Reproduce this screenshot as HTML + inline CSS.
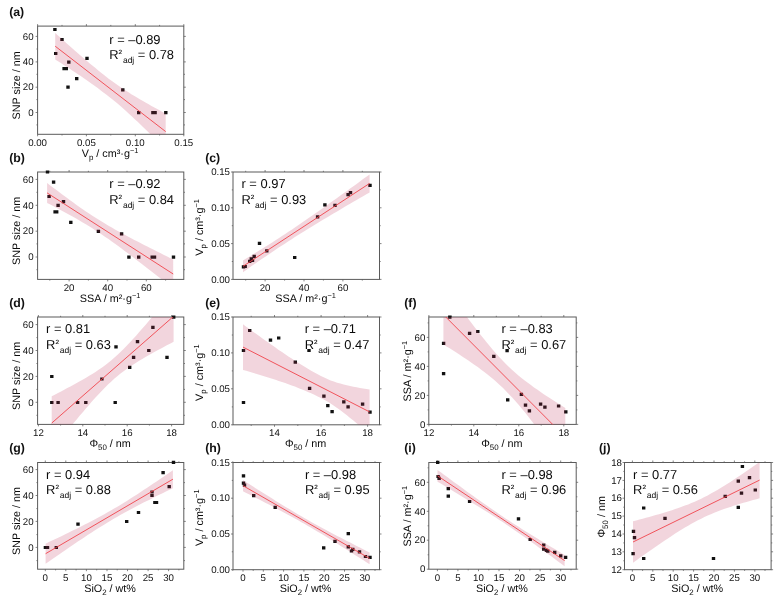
<!DOCTYPE html>
<html><head><meta charset="utf-8"><title>Correlation plots</title>
<style>html,body{margin:0;padding:0;background:#fff}svg{display:block;text-rendering:geometricPrecision}</style></head>
<body>
<svg width="782" height="601" viewBox="0 0 782 601" font-family='"Liberation Sans", Arial, sans-serif' fill="#0a0a0a">
<rect width="782" height="601" fill="#fff"/>
<g id="panel-a">
<clipPath id="c1"><rect x="37.6" y="26.1" width="146.2" height="108.2"/></clipPath>
<path d="M37.6 134.3v2M37.6 26.1v-2M86.4 134.3v2M86.4 26.1v-2M135.3 134.3v2M135.3 26.1v-2M183.8 134.3v2M183.8 26.1v-2M37.6 112.5h-2M183.8 112.5h2M37.6 87.2h-2M183.8 87.2h2M37.6 61.9h-2M183.8 61.9h2M37.6 36.4h-2M183.8 36.4h2M62.0 134.3v1.2M62.0 26.1v-1.2M110.8 134.3v1.2M110.8 26.1v-1.2M159.6 134.3v1.2M159.6 26.1v-1.2M37.6 49.0h-1.2M183.8 49.0h1.2M37.6 74.3h-1.2M183.8 74.3h1.2M37.6 99.6h-1.2M183.8 99.6h1.2M37.6 124.9h-1.2M183.8 124.9h1.2" stroke="#666" stroke-width="0.8" fill="none"/>
<rect x="37.6" y="26.1" width="146.2" height="108.2" fill="none" stroke="#5a5a5a" stroke-width="1"/>
<path d="M53.2 27.9h3.4v3.2h-3.4zM60.3 37.9h3.4v3.2h-3.4zM54.0 51.9h3.4v3.2h-3.4zM85.3 56.8h3.4v3.2h-3.4zM67.1 60.6h3.4v3.2h-3.4zM62.4 67.0h3.4v3.2h-3.4zM64.6 67.0h3.4v3.2h-3.4zM75.0 77.0h3.4v3.2h-3.4zM66.3 85.6h3.4v3.2h-3.4zM121.1 88.3h3.4v3.2h-3.4zM137.0 111.0h3.4v3.2h-3.4zM151.2 111.0h3.4v3.2h-3.4zM153.4 111.0h3.4v3.2h-3.4zM164.1 111.0h3.4v3.2h-3.4z" fill="#111"/>
<g clip-path="url(#c1)"><polygon points="55.2,33.0 58.0,35.6 60.9,38.1 63.7,40.7 66.5,43.2 69.4,45.7 72.2,48.3 75.0,50.7 77.9,53.2 80.7,55.7 83.5,58.1 86.4,60.5 89.2,62.9 92.0,65.3 94.9,67.6 97.7,69.9 100.5,72.2 103.4,74.5 106.2,76.7 109.0,78.9 111.9,81.0 114.7,83.1 117.5,85.1 120.4,87.1 123.2,89.0 126.0,90.8 128.9,92.6 131.7,94.4 134.5,96.1 137.4,97.8 140.2,99.5 143.0,101.1 145.9,102.7 148.7,104.3 151.5,105.9 154.4,107.5 157.2,109.1 160.0,110.6 162.9,112.2 165.7,113.7 165.7,149.5 162.9,146.7 160.0,143.8 157.2,141.0 154.4,138.2 151.5,135.4 148.7,132.6 145.9,129.8 143.0,127.0 140.2,124.3 137.4,121.6 134.5,118.9 131.7,116.3 128.9,113.7 126.0,111.1 123.2,108.5 120.4,106.1 117.5,103.6 114.7,101.3 111.9,99.0 109.0,96.7 106.2,94.5 103.4,92.4 100.5,90.2 97.7,88.1 94.9,86.1 92.0,84.0 89.2,82.0 86.4,80.0 83.5,78.1 80.7,76.1 77.9,74.2 75.0,72.3 72.2,70.4 69.4,68.6 66.5,66.7 63.7,64.9 60.9,63.0 58.0,61.2 55.2,59.4" fill="rgba(190,45,85,0.2)"/><line x1="55.2" y1="46.2" x2="165.7" y2="131.6" stroke="#f0444c" stroke-width="0.9"/></g>
<g font-size="9.7" fill="#111">
<text x="37.6" y="145.7" text-anchor="middle">0.00</text>
<text x="86.4" y="145.7" text-anchor="middle">0.05</text>
<text x="135.3" y="145.7" text-anchor="middle">0.10</text>
<text x="183.8" y="145.7" text-anchor="middle">0.15</text>
<text x="33.6" y="115.7" text-anchor="end">0</text>
<text x="33.6" y="90.4" text-anchor="end">20</text>
<text x="33.6" y="65.1" text-anchor="end">40</text>
<text x="33.6" y="39.6" text-anchor="end">60</text>
</g>
<text x="110.1" y="156.9" font-size="10.8" text-anchor="middle">V<tspan font-size="7.9" dy="2.7">p</tspan><tspan dy="-2.7"> / cm³·g</tspan><tspan font-size="7.4" dy="-4.3">−1</tspan></text>
<text x="19.6" y="85.3" font-size="10.8" text-anchor="middle" transform="rotate(-90 19.6 85.3)">SNP size / nm</text>
<text x="9.2" y="15.7" font-size="12.3" font-weight="bold" fill="#111">(a)</text>
<text x="109.3" y="43.5" font-size="12.9">r = –0.89</text>
<text x="109.3" y="58.8" font-size="12.9">R<tspan font-size="10.5" dy="-1.7">²</tspan><tspan font-size="8.5" dy="5.7" dx="0.8">adj</tspan><tspan dy="-4.0"> = 0.78</tspan></text>
</g>
<g id="panel-b">
<clipPath id="c2"><rect x="37.6" y="172.0" width="146.2" height="107.4"/></clipPath>
<path d="M69.1 279.4v2M69.1 172.0v-2M107.7 279.4v2M107.7 172.0v-2M146.3 279.4v2M146.3 172.0v-2M37.6 257.0h-2M183.8 257.0h2M37.6 231.2h-2M183.8 231.2h2M37.6 205.3h-2M183.8 205.3h2M37.6 179.4h-2M183.8 179.4h2M49.8 279.4v1.2M49.8 172.0v-1.2M88.4 279.4v1.2M88.4 172.0v-1.2M127.0 279.4v1.2M127.0 172.0v-1.2M165.6 279.4v1.2M165.6 172.0v-1.2M37.6 192.3h-1.2M183.8 192.3h1.2M37.6 218.1h-1.2M183.8 218.1h1.2M37.6 243.9h-1.2M183.8 243.9h1.2M37.6 269.7h-1.2M183.8 269.7h1.2" stroke="#666" stroke-width="0.8" fill="none"/>
<rect x="37.6" y="172.0" width="146.2" height="107.4" fill="none" stroke="#5a5a5a" stroke-width="1"/>
<path d="M45.8 170.4h3.4v3.2h-3.4zM51.9 180.6h3.4v3.2h-3.4zM47.4 194.9h3.4v3.2h-3.4zM61.8 200.0h3.4v3.2h-3.4zM56.4 203.7h3.4v3.2h-3.4zM53.4 210.3h3.4v3.2h-3.4zM55.0 210.3h3.4v3.2h-3.4zM69.1 220.7h3.4v3.2h-3.4zM96.7 229.7h3.4v3.2h-3.4zM119.9 232.2h3.4v3.2h-3.4zM127.2 255.5h3.4v3.2h-3.4zM137.0 255.5h3.4v3.2h-3.4zM150.5 255.5h3.4v3.2h-3.4zM152.8 255.5h3.4v3.2h-3.4zM171.8 255.5h3.4v3.2h-3.4z" fill="#111"/>
<g clip-path="url(#c2)"><polygon points="47.1,182.9 50.3,185.4 53.6,187.9 56.8,190.3 60.0,192.8 63.3,195.2 66.5,197.6 69.7,200.0 73.0,202.3 76.2,204.7 79.4,206.9 82.7,209.2 85.9,211.4 89.1,213.6 92.4,215.7 95.6,217.8 98.8,219.8 102.1,221.8 105.3,223.8 108.5,225.7 111.8,227.5 115.0,229.4 118.2,231.2 121.5,233.0 124.7,234.7 127.9,236.5 131.2,238.2 134.4,239.9 137.6,241.6 140.9,243.2 144.1,244.9 147.3,246.6 150.6,248.2 153.8,249.8 157.0,251.5 160.3,253.1 163.5,254.7 166.7,256.3 170.0,257.9 173.2,259.5 173.2,288.5 170.0,285.9 166.7,283.4 163.5,280.8 160.3,278.3 157.0,275.8 153.8,273.2 150.6,270.7 147.3,268.2 144.1,265.7 140.9,263.2 137.6,260.7 134.4,258.2 131.2,255.7 127.9,253.3 124.7,250.9 121.5,248.5 118.2,246.1 115.0,243.8 111.8,241.4 108.5,239.1 105.3,236.9 102.1,234.7 98.8,232.5 95.6,230.4 92.4,228.3 89.1,226.3 85.9,224.3 82.7,222.4 79.4,220.4 76.2,218.6 73.0,216.7 69.7,214.9 66.5,213.2 63.3,211.4 60.0,209.7 56.8,208.0 53.6,206.3 50.3,204.6 47.1,202.9" fill="rgba(190,45,85,0.2)"/><line x1="47.1" y1="192.9" x2="173.2" y2="274.0" stroke="#f0444c" stroke-width="0.9"/></g>
<g font-size="9.7" fill="#111">
<text x="69.1" y="290.8" text-anchor="middle">20</text>
<text x="107.7" y="290.8" text-anchor="middle">40</text>
<text x="146.3" y="290.8" text-anchor="middle">60</text>
<text x="33.6" y="260.2" text-anchor="end">0</text>
<text x="33.6" y="234.4" text-anchor="end">20</text>
<text x="33.6" y="208.5" text-anchor="end">40</text>
<text x="33.6" y="182.6" text-anchor="end">60</text>
</g>
<text x="110.1" y="302.0" font-size="10.8" text-anchor="middle">SSA / m²·g<tspan font-size="7.4" dy="-4.3">−1</tspan></text>
<text x="19.6" y="230.8" font-size="10.8" text-anchor="middle" transform="rotate(-90 19.6 230.8)">SNP size / nm</text>
<text x="9.2" y="161.6" font-size="12.3" font-weight="bold" fill="#111">(b)</text>
<text x="109.3" y="188.2" font-size="12.9">r = –0.92</text>
<text x="109.3" y="203.5" font-size="12.9">R<tspan font-size="10.5" dy="-1.7">²</tspan><tspan font-size="8.5" dy="5.7" dx="0.8">adj</tspan><tspan dy="-4.0"> = 0.84</tspan></text>
</g>
<g id="panel-c">
<clipPath id="c3"><rect x="233.0" y="172.0" width="146.5" height="107.4"/></clipPath>
<path d="M265.1 279.4v2M265.1 172.0v-2M304.0 279.4v2M304.0 172.0v-2M342.9 279.4v2M342.9 172.0v-2M233.0 279.4h-2M379.5 279.4h2M233.0 243.6h-2M379.5 243.6h2M233.0 207.8h-2M379.5 207.8h2M233.0 172.0h-2M379.5 172.0h2M245.7 279.4v1.2M245.7 172.0v-1.2M284.6 279.4v1.2M284.6 172.0v-1.2M323.4 279.4v1.2M323.4 172.0v-1.2M362.3 279.4v1.2M362.3 172.0v-1.2M233.0 189.9h-1.2M379.5 189.9h1.2M233.0 225.7h-1.2M379.5 225.7h1.2M233.0 261.5h-1.2M379.5 261.5h1.2" stroke="#666" stroke-width="0.8" fill="none"/>
<rect x="233.0" y="172.0" width="146.5" height="107.4" fill="none" stroke="#5a5a5a" stroke-width="1"/>
<path d="M241.8 265.3h3.4v3.2h-3.4zM243.5 264.9h3.4v3.2h-3.4zM248.0 259.8h3.4v3.2h-3.4zM249.6 257.3h3.4v3.2h-3.4zM250.8 258.8h3.4v3.2h-3.4zM252.5 254.7h3.4v3.2h-3.4zM257.8 241.8h3.4v3.2h-3.4zM265.1 249.3h3.4v3.2h-3.4zM293.0 255.9h3.4v3.2h-3.4zM315.9 215.2h3.4v3.2h-3.4zM323.2 203.3h3.4v3.2h-3.4zM333.3 203.7h3.4v3.2h-3.4zM346.4 193.1h3.4v3.2h-3.4zM348.8 191.0h3.4v3.2h-3.4zM368.3 183.7h3.4v3.2h-3.4z" fill="#111"/>
<g clip-path="url(#c3)"><polygon points="243.0,260.4 246.2,258.4 249.5,256.5 252.7,254.5 256.0,252.5 259.2,250.5 262.5,248.5 265.7,246.5 269.0,244.4 272.2,242.4 275.5,240.3 278.7,238.2 282.0,236.1 285.2,234.0 288.4,231.8 291.7,229.7 294.9,227.5 298.2,225.3 301.4,223.1 304.7,220.8 307.9,218.6 311.2,216.3 314.4,214.1 317.7,211.8 320.9,209.5 324.2,207.2 327.4,204.9 330.6,202.6 333.9,200.3 337.1,197.9 340.4,195.6 343.6,193.3 346.9,190.9 350.1,188.6 353.4,186.2 356.6,183.9 359.9,181.5 363.1,179.1 366.4,176.8 369.6,174.4 369.6,192.4 366.4,194.3 363.1,196.2 359.9,198.1 356.6,199.9 353.4,201.8 350.1,203.7 346.9,205.6 343.6,207.5 340.4,209.5 337.1,211.4 333.9,213.3 330.6,215.2 327.4,217.2 324.2,219.1 320.9,221.1 317.7,223.0 314.4,225.0 311.2,227.0 307.9,229.0 304.7,231.0 301.4,233.0 298.2,235.0 294.9,237.1 291.7,239.2 288.4,241.3 285.2,243.4 282.0,245.5 278.7,247.6 275.5,249.8 272.2,252.0 269.0,254.2 265.7,256.4 262.5,258.6 259.2,260.8 256.0,263.1 252.7,265.3 249.5,267.6 246.2,269.9 243.0,272.2" fill="rgba(190,45,85,0.2)"/><line x1="243.0" y1="266.3" x2="369.6" y2="183.4" stroke="#f0444c" stroke-width="0.9"/></g>
<g font-size="9.7" fill="#111">
<text x="265.1" y="290.8" text-anchor="middle">20</text>
<text x="304.0" y="290.8" text-anchor="middle">40</text>
<text x="342.9" y="290.8" text-anchor="middle">60</text>
<text x="230.0" y="282.6" text-anchor="end">0.00</text>
<text x="230.0" y="246.8" text-anchor="end">0.05</text>
<text x="230.0" y="211.0" text-anchor="end">0.10</text>
<text x="230.0" y="175.2" text-anchor="end">0.15</text>
</g>
<text x="305.6" y="302.0" font-size="10.8" text-anchor="middle">SSA / m²·g<tspan font-size="7.4" dy="-4.3">−1</tspan></text>
<text x="203.5" y="227.4" font-size="10.8" text-anchor="middle" transform="rotate(-90 203.5 227.4)">V<tspan font-size="7.9" dy="2.7">p</tspan><tspan dy="-2.7"> / cm³·g</tspan><tspan font-size="7.4" dy="-4.3">−1</tspan></text>
<text x="205.2" y="161.6" font-size="12.3" font-weight="bold" fill="#111">(c)</text>
<text x="241.5" y="188.2" font-size="12.9">r = 0.97</text>
<text x="241.5" y="203.5" font-size="12.9">R<tspan font-size="10.5" dy="-1.7">²</tspan><tspan font-size="8.5" dy="5.7" dx="0.8">adj</tspan><tspan dy="-4.0"> = 0.93</tspan></text>
</g>
<g id="panel-d">
<clipPath id="c4"><rect x="37.6" y="317.0" width="146.2" height="107.4"/></clipPath>
<path d="M38.4 424.35v2M38.4 317.0v-2M82.8 424.35v2M82.8 317.0v-2M127.2 424.35v2M127.2 317.0v-2M171.6 424.35v2M171.6 317.0v-2M37.6 402.3h-2M183.8 402.3h2M37.6 376.4h-2M183.8 376.4h2M37.6 350.5h-2M183.8 350.5h2M37.6 324.6h-2M183.8 324.6h2M60.6 424.35v1.2M60.6 317.0v-1.2M105.0 424.35v1.2M105.0 317.0v-1.2M149.4 424.35v1.2M149.4 317.0v-1.2M37.6 337.6h-1.2M183.8 337.6h1.2M37.6 363.5h-1.2M183.8 363.5h1.2M37.6 389.4h-1.2M183.8 389.4h1.2M37.6 415.3h-1.2M183.8 415.3h1.2" stroke="#666" stroke-width="0.8" fill="none"/>
<rect x="37.6" y="317.0" width="146.2" height="107.4" fill="none" stroke="#5a5a5a" stroke-width="1"/>
<path d="M172.0 315.6h3.4v3.2h-3.4zM151.2 325.8h3.4v3.2h-3.4zM135.8 340.1h3.4v3.2h-3.4zM114.3 345.2h3.4v3.2h-3.4zM147.1 348.9h3.4v3.2h-3.4zM165.3 355.7h3.4v3.2h-3.4zM131.9 355.7h3.4v3.2h-3.4zM128.0 365.7h3.4v3.2h-3.4zM50.1 374.9h3.4v3.2h-3.4zM100.2 377.4h3.4v3.2h-3.4zM50.1 400.9h3.4v3.2h-3.4zM56.4 400.9h3.4v3.2h-3.4zM75.9 400.9h3.4v3.2h-3.4zM84.1 400.9h3.4v3.2h-3.4zM113.5 400.9h3.4v3.2h-3.4z" fill="#111"/>
<g clip-path="url(#c4)"><polygon points="51.7,396.3 54.8,394.7 58.0,393.1 61.1,391.4 64.2,389.8 67.3,388.1 70.5,386.4 73.6,384.7 76.7,383.0 79.8,381.3 83.0,379.5 86.1,377.7 89.2,375.8 92.3,373.9 95.5,371.9 98.6,369.8 101.7,367.7 104.8,365.4 108.0,363.0 111.1,360.5 114.2,357.8 117.3,355.0 120.5,352.1 123.6,349.0 126.7,345.8 129.8,342.5 133.0,339.1 136.1,335.7 139.2,332.1 142.3,328.5 145.5,324.9 148.6,321.2 151.7,317.5 154.8,313.7 158.0,309.9 161.1,306.1 164.2,302.3 167.3,298.5 170.5,294.7 173.6,290.8 173.6,341.8 170.5,343.4 167.3,345.1 164.2,346.7 161.1,348.4 158.0,350.1 154.8,351.8 151.7,353.5 148.6,355.2 145.5,357.0 142.3,358.9 139.2,360.7 136.1,362.7 133.0,364.7 129.8,366.8 126.7,368.9 123.6,371.2 120.5,373.6 117.3,376.2 114.2,378.8 111.1,381.7 108.0,384.6 104.8,387.7 101.7,390.9 98.6,394.2 95.5,397.6 92.3,401.1 89.2,404.7 86.1,408.3 83.0,411.9 79.8,415.6 76.7,419.4 73.6,423.1 70.5,426.9 67.3,430.7 64.2,434.5 61.1,438.3 58.0,442.2 54.8,446.0 51.7,449.9" fill="rgba(190,45,85,0.2)"/><line x1="51.7" y1="423.1" x2="173.6" y2="316.3" stroke="#f0444c" stroke-width="0.9"/></g>
<g font-size="9.7" fill="#111">
<text x="38.4" y="435.8" text-anchor="middle">12</text>
<text x="82.8" y="435.8" text-anchor="middle">14</text>
<text x="127.2" y="435.8" text-anchor="middle">16</text>
<text x="171.6" y="435.8" text-anchor="middle">18</text>
<text x="33.6" y="405.5" text-anchor="end">0</text>
<text x="33.6" y="379.6" text-anchor="end">20</text>
<text x="33.6" y="353.7" text-anchor="end">40</text>
<text x="33.6" y="327.8" text-anchor="end">60</text>
</g>
<text x="110.1" y="447.0" font-size="10.8" text-anchor="middle">Φ<tspan font-size="7.9" dy="2.7">50</tspan><tspan dy="-2.7"> / nm</tspan></text>
<text x="19.6" y="375.8" font-size="10.8" text-anchor="middle" transform="rotate(-90 19.6 375.8)">SNP size / nm</text>
<text x="9.2" y="306.6" font-size="12.3" font-weight="bold" fill="#111">(d)</text>
<text x="46.1" y="333.2" font-size="12.9">r = 0.81</text>
<text x="46.1" y="348.5" font-size="12.9">R<tspan font-size="10.5" dy="-1.7">²</tspan><tspan font-size="8.5" dy="5.7" dx="0.8">adj</tspan><tspan dy="-4.0"> = 0.63</tspan></text>
</g>
<g id="panel-e">
<clipPath id="c5"><rect x="233.0" y="317.0" width="146.5" height="107.8"/></clipPath>
<path d="M274.5 424.75v2M274.5 317.0v-2M321.1 424.75v2M321.1 317.0v-2M367.6 424.75v2M367.6 317.0v-2M233.0 424.8h-2M379.5 424.8h2M233.0 388.8h-2M379.5 388.8h2M233.0 352.9h-2M379.5 352.9h2M233.0 317.0h-2M379.5 317.0h2M251.2 424.75v1.2M251.2 317.0v-1.2M297.8 424.75v1.2M297.8 317.0v-1.2M344.4 424.75v1.2M344.4 317.0v-1.2M233.0 335.0h-1.2M379.5 335.0h1.2M233.0 370.9h-1.2M379.5 370.9h1.2M233.0 406.9h-1.2M379.5 406.9h1.2" stroke="#666" stroke-width="0.8" fill="none"/>
<rect x="233.0" y="317.0" width="146.5" height="107.8" fill="none" stroke="#5a5a5a" stroke-width="1"/>
<path d="M248.0 328.9h3.4v3.2h-3.4zM268.8 338.5h3.4v3.2h-3.4zM277.0 336.4h3.4v3.2h-3.4zM241.8 348.9h3.4v3.2h-3.4zM307.3 348.9h3.4v3.2h-3.4zM293.6 360.6h3.4v3.2h-3.4zM241.8 400.9h3.4v3.2h-3.4zM307.9 386.8h3.4v3.2h-3.4zM322.2 394.5h3.4v3.2h-3.4zM326.1 404.0h3.4v3.2h-3.4zM330.4 410.1h3.4v3.2h-3.4zM342.1 400.3h3.4v3.2h-3.4zM346.4 405.2h3.4v3.2h-3.4zM360.9 402.5h3.4v3.2h-3.4zM368.3 410.5h3.4v3.2h-3.4z" fill="#111"/>
<g clip-path="url(#c5)"><polygon points="243.0,324.3 246.2,326.7 249.5,329.0 252.7,331.4 256.0,333.8 259.2,336.1 262.5,338.4 265.7,340.7 269.0,343.1 272.2,345.3 275.5,347.6 278.7,349.9 282.0,352.1 285.2,354.3 288.4,356.5 291.7,358.6 294.9,360.7 298.2,362.8 301.4,364.8 304.7,366.8 307.9,368.8 311.2,370.7 314.4,372.5 317.7,374.3 320.9,376.0 324.2,377.6 327.4,379.1 330.6,380.4 333.9,381.6 337.1,382.7 340.4,383.6 343.6,384.5 346.9,385.3 350.1,386.0 353.4,386.7 356.6,387.3 359.9,387.9 363.1,388.5 366.4,389.0 369.6,389.5 369.6,434.3 366.4,431.5 363.1,428.7 359.9,425.9 356.6,423.2 353.4,420.5 350.1,417.9 346.9,415.3 343.6,412.7 340.4,410.3 337.1,407.9 333.9,405.7 330.6,403.5 327.4,401.5 324.2,399.7 320.9,398.0 317.7,396.4 314.4,394.8 311.2,393.3 307.9,391.9 304.7,390.5 301.4,389.2 298.2,387.9 294.9,386.6 291.7,385.4 288.4,384.3 285.2,383.1 282.0,382.0 278.7,380.9 275.5,379.8 272.2,378.8 269.0,377.7 265.7,376.7 262.5,375.7 259.2,374.7 256.0,373.7 252.7,372.8 249.5,371.8 246.2,370.8 243.0,369.9" fill="rgba(190,45,85,0.2)"/><line x1="243.0" y1="347.1" x2="369.6" y2="411.9" stroke="#f0444c" stroke-width="0.9"/></g>
<g font-size="9.7" fill="#111">
<text x="274.5" y="436.1" text-anchor="middle">14</text>
<text x="321.1" y="436.1" text-anchor="middle">16</text>
<text x="367.6" y="436.1" text-anchor="middle">18</text>
<text x="230.0" y="427.9" text-anchor="end">0.00</text>
<text x="230.0" y="392.0" text-anchor="end">0.05</text>
<text x="230.0" y="356.1" text-anchor="end">0.10</text>
<text x="230.0" y="320.2" text-anchor="end">0.15</text>
</g>
<text x="305.6" y="447.4" font-size="10.8" text-anchor="middle">Φ<tspan font-size="7.9" dy="2.7">50</tspan><tspan dy="-2.7"> / nm</tspan></text>
<text x="203.5" y="372.6" font-size="10.8" text-anchor="middle" transform="rotate(-90 203.5 372.6)">V<tspan font-size="7.9" dy="2.7">p</tspan><tspan dy="-2.7"> / cm³·g</tspan><tspan font-size="7.4" dy="-4.3">−1</tspan></text>
<text x="205.2" y="306.6" font-size="12.3" font-weight="bold" fill="#111">(e)</text>
<text x="304.7" y="333.2" font-size="12.9">r = –0.71</text>
<text x="304.7" y="348.5" font-size="12.9">R<tspan font-size="10.5" dy="-1.7">²</tspan><tspan font-size="8.5" dy="5.7" dx="0.8">adj</tspan><tspan dy="-4.0"> = 0.47</tspan></text>
</g>
<g id="panel-f">
<clipPath id="c6"><rect x="428.8" y="317.0" width="147.4" height="107.4"/></clipPath>
<path d="M428.9 424.4v2M428.9 317.0v-2M473.8 424.4v2M473.8 317.0v-2M518.8 424.4v2M518.8 317.0v-2M563.8 424.4v2M563.8 317.0v-2M428.8 424.4h-2M576.2 424.4h2M428.8 395.4h-2M576.2 395.4h2M428.8 366.4h-2M576.2 366.4h2M428.8 337.4h-2M576.2 337.4h2M451.4 424.4v1.2M451.4 317.0v-1.2M496.3 424.4v1.2M496.3 317.0v-1.2M541.2 424.4v1.2M541.2 317.0v-1.2M428.8 322.9h-1.2M576.2 322.9h1.2M428.8 351.9h-1.2M576.2 351.9h1.2M428.8 380.9h-1.2M576.2 380.9h1.2M428.8 409.9h-1.2M576.2 409.9h1.2" stroke="#666" stroke-width="0.8" fill="none"/>
<rect x="428.8" y="317.0" width="147.4" height="107.4" fill="none" stroke="#5a5a5a" stroke-width="1"/>
<path d="M448.1 315.5h3.4v3.2h-3.4zM467.9 331.7h3.4v3.2h-3.4zM476.1 329.9h3.4v3.2h-3.4zM441.9 341.8h3.4v3.2h-3.4zM505.4 349.1h3.4v3.2h-3.4zM492.1 354.7h3.4v3.2h-3.4zM441.9 372.0h3.4v3.2h-3.4zM506.0 398.2h3.4v3.2h-3.4zM519.7 392.7h3.4v3.2h-3.4zM523.8 403.6h3.4v3.2h-3.4zM527.7 409.3h3.4v3.2h-3.4zM538.9 402.5h3.4v3.2h-3.4zM543.2 405.6h3.4v3.2h-3.4zM556.9 404.4h3.4v3.2h-3.4zM564.1 410.3h3.4v3.2h-3.4z" fill="#111"/>
<g clip-path="url(#c6)"><polygon points="443.4,284.8 446.5,289.1 449.7,293.4 452.8,297.7 455.9,302.0 459.0,306.3 462.2,310.5 465.3,314.7 468.4,318.9 471.5,323.1 474.7,327.2 477.8,331.2 480.9,335.2 484.0,339.1 487.2,343.0 490.3,346.8 493.4,350.4 496.5,354.0 499.7,357.4 502.8,360.7 505.9,363.9 509.0,367.0 512.2,369.9 515.3,372.7 518.4,375.4 521.5,377.9 524.7,380.4 527.8,382.8 530.9,385.1 534.0,387.4 537.2,389.6 540.3,391.8 543.4,393.9 546.5,396.0 549.7,398.0 552.8,400.1 555.9,402.1 559.0,404.1 562.2,406.0 565.3,408.0 565.3,466.2 562.2,461.9 559.0,457.6 555.9,453.3 552.8,449.0 549.7,444.8 546.5,440.5 543.4,436.3 540.3,432.2 537.2,428.1 534.0,424.0 530.9,420.0 527.8,416.0 524.7,412.1 521.5,408.3 518.4,404.6 515.3,401.0 512.2,397.5 509.0,394.2 505.9,390.9 502.8,387.8 499.7,384.9 496.5,382.0 493.4,379.3 490.3,376.7 487.2,374.2 484.0,371.7 480.9,369.4 477.8,367.1 474.7,364.9 471.5,362.7 468.4,360.5 465.3,358.4 462.2,356.4 459.0,354.3 455.9,352.3 452.8,350.3 449.7,348.3 446.5,346.4 443.4,344.4" fill="rgba(190,45,85,0.2)"/><line x1="443.4" y1="314.6" x2="565.3" y2="437.1" stroke="#f0444c" stroke-width="0.9"/></g>
<g font-size="9.7" fill="#111">
<text x="428.9" y="435.8" text-anchor="middle">12</text>
<text x="473.8" y="435.8" text-anchor="middle">14</text>
<text x="518.8" y="435.8" text-anchor="middle">16</text>
<text x="563.8" y="435.8" text-anchor="middle">18</text>
<text x="425.3" y="427.6" text-anchor="end">0</text>
<text x="425.3" y="398.6" text-anchor="end">20</text>
<text x="425.3" y="369.6" text-anchor="end">40</text>
<text x="425.3" y="340.6" text-anchor="end">60</text>
</g>
<text x="501.9" y="447.0" font-size="10.8" text-anchor="middle">Φ<tspan font-size="7.9" dy="2.7">50</tspan><tspan dy="-2.7"> / nm</tspan></text>
<text x="411.0" y="371.1" font-size="10.8" text-anchor="middle" transform="rotate(-90 411.0 371.1)">SSA / m²·g<tspan font-size="7.4" dy="-4.3">−1</tspan></text>
<text x="404.2" y="306.6" font-size="12.3" font-weight="bold" fill="#111">(f)</text>
<text x="501.5" y="333.2" font-size="12.9">r = –0.83</text>
<text x="501.5" y="348.5" font-size="12.9">R<tspan font-size="10.5" dy="-1.7">²</tspan><tspan font-size="8.5" dy="5.7" dx="0.8">adj</tspan><tspan dy="-4.0"> = 0.67</tspan></text>
</g>
<g id="panel-g">
<clipPath id="c7"><rect x="37.6" y="462.5" width="146.2" height="106.7"/></clipPath>
<path d="M45.3 569.2v2M45.3 462.5v-2M65.8 569.2v2M65.8 462.5v-2M86.4 569.2v2M86.4 462.5v-2M107.0 569.2v2M107.0 462.5v-2M127.5 569.2v2M127.5 462.5v-2M148.1 569.2v2M148.1 462.5v-2M168.6 569.2v2M168.6 462.5v-2M37.6 547.4h-2M183.8 547.4h2M37.6 521.4h-2M183.8 521.4h2M37.6 495.5h-2M183.8 495.5h2M37.6 469.6h-2M183.8 469.6h2M55.6 569.2v1.2M55.6 462.5v-1.2M76.1 569.2v1.2M76.1 462.5v-1.2M96.7 569.2v1.2M96.7 462.5v-1.2M117.2 569.2v1.2M117.2 462.5v-1.2M137.8 569.2v1.2M137.8 462.5v-1.2M158.3 569.2v1.2M158.3 462.5v-1.2M178.9 569.2v1.2M178.9 462.5v-1.2M37.6 482.6h-1.2M183.8 482.6h1.2M37.6 508.6h-1.2M183.8 508.6h1.2M37.6 534.6h-1.2M183.8 534.6h1.2M37.6 560.6h-1.2M183.8 560.6h1.2" stroke="#666" stroke-width="0.8" fill="none"/>
<rect x="37.6" y="462.5" width="146.2" height="106.7" fill="none" stroke="#5a5a5a" stroke-width="1"/>
<path d="M171.8 460.8h3.4v3.2h-3.4zM161.4 471.0h3.4v3.2h-3.4zM167.5 485.1h3.4v3.2h-3.4zM150.3 490.4h3.4v3.2h-3.4zM150.3 493.9h3.4v3.2h-3.4zM153.2 500.9h3.4v3.2h-3.4zM154.8 500.9h3.4v3.2h-3.4zM136.8 510.9h3.4v3.2h-3.4zM125.0 519.9h3.4v3.2h-3.4zM76.3 522.6h3.4v3.2h-3.4zM43.7 545.9h3.4v3.2h-3.4zM45.8 545.9h3.4v3.2h-3.4zM54.6 545.9h3.4v3.2h-3.4z" fill="#111"/>
<g clip-path="url(#c7)"><polygon points="45.6,543.7 48.9,542.1 52.1,540.6 55.4,539.0 58.7,537.5 61.9,535.9 65.2,534.3 68.4,532.7 71.7,531.1 75.0,529.5 78.2,527.9 81.5,526.2 84.8,524.6 88.0,522.9 91.3,521.2 94.6,519.5 97.8,517.7 101.1,516.0 104.4,514.2 107.6,512.3 110.9,510.5 114.1,508.6 117.4,506.7 120.7,504.7 123.9,502.7 127.2,500.7 130.5,498.6 133.7,496.5 137.0,494.4 140.3,492.3 143.5,490.1 146.8,488.0 150.1,485.8 153.3,483.6 156.6,481.4 159.8,479.2 163.1,476.9 166.4,474.7 169.6,472.5 172.9,470.2 172.9,488.2 169.6,489.8 166.4,491.3 163.1,492.9 159.8,494.5 156.6,496.1 153.3,497.7 150.1,499.4 146.8,501.0 143.5,502.6 140.3,504.3 137.0,506.0 133.7,507.7 130.5,509.5 127.2,511.2 123.9,513.0 120.7,514.8 117.4,516.7 114.1,518.6 110.9,520.5 107.6,522.5 104.4,524.5 101.1,526.5 97.8,528.5 94.6,530.6 91.3,532.7 88.0,534.8 84.8,537.0 81.5,539.2 78.2,541.3 75.0,543.5 71.7,545.7 68.4,548.0 65.2,550.2 61.9,552.4 58.7,554.7 55.4,556.9 52.1,559.2 48.9,561.4 45.6,563.7" fill="rgba(190,45,85,0.2)"/><line x1="45.6" y1="553.7" x2="172.9" y2="479.2" stroke="#f0444c" stroke-width="0.9"/></g>
<g font-size="9.7" fill="#111">
<text x="45.3" y="580.6" text-anchor="middle">0</text>
<text x="65.8" y="580.6" text-anchor="middle">5</text>
<text x="86.4" y="580.6" text-anchor="middle">10</text>
<text x="107.0" y="580.6" text-anchor="middle">15</text>
<text x="127.5" y="580.6" text-anchor="middle">20</text>
<text x="148.1" y="580.6" text-anchor="middle">25</text>
<text x="168.6" y="580.6" text-anchor="middle">30</text>
<text x="33.6" y="550.6" text-anchor="end">0</text>
<text x="33.6" y="524.6" text-anchor="end">20</text>
<text x="33.6" y="498.7" text-anchor="end">40</text>
<text x="33.6" y="472.8" text-anchor="end">60</text>
</g>
<text x="110.1" y="591.8" font-size="10.8" text-anchor="middle">SiO<tspan font-size="7.9" dy="2.7">2</tspan><tspan dy="-2.7"> / wt%</tspan></text>
<text x="19.6" y="521.0" font-size="10.8" text-anchor="middle" transform="rotate(-90 19.6 521.0)">SNP size / nm</text>
<text x="9.2" y="452.1" font-size="12.3" font-weight="bold" fill="#111">(g)</text>
<text x="46.1" y="478.7" font-size="12.9">r = 0.94</text>
<text x="46.1" y="494.0" font-size="12.9">R<tspan font-size="10.5" dy="-1.7">²</tspan><tspan font-size="8.5" dy="5.7" dx="0.8">adj</tspan><tspan dy="-4.0"> = 0.88</tspan></text>
</g>
<g id="panel-h">
<clipPath id="c8"><rect x="233.0" y="462.5" width="146.5" height="107.2"/></clipPath>
<path d="M243.0 569.7v2M243.0 462.5v-2M263.3 569.7v2M263.3 462.5v-2M283.6 569.7v2M283.6 462.5v-2M303.9 569.7v2M303.9 462.5v-2M324.2 569.7v2M324.2 462.5v-2M344.5 569.7v2M344.5 462.5v-2M364.8 569.7v2M364.8 462.5v-2M233.0 569.7h-2M379.5 569.7h2M233.0 534.0h-2M379.5 534.0h2M233.0 498.2h-2M379.5 498.2h2M233.0 462.5h-2M379.5 462.5h2M232.8 569.7v1.2M232.8 462.5v-1.2M253.2 569.7v1.2M253.2 462.5v-1.2M273.5 569.7v1.2M273.5 462.5v-1.2M293.8 569.7v1.2M293.8 462.5v-1.2M314.1 569.7v1.2M314.1 462.5v-1.2M334.4 569.7v1.2M334.4 462.5v-1.2M354.7 569.7v1.2M354.7 462.5v-1.2M375.0 569.7v1.2M375.0 462.5v-1.2M233.0 480.4h-1.2M379.5 480.4h1.2M233.0 516.1h-1.2M379.5 516.1h1.2M233.0 551.8h-1.2M379.5 551.8h1.2" stroke="#666" stroke-width="0.8" fill="none"/>
<rect x="233.0" y="462.5" width="146.5" height="107.2" fill="none" stroke="#5a5a5a" stroke-width="1"/>
<path d="M241.8 474.3h3.4v3.2h-3.4zM241.8 481.6h3.4v3.2h-3.4zM242.8 483.5h3.4v3.2h-3.4zM252.0 494.1h3.4v3.2h-3.4zM273.5 505.8h3.4v3.2h-3.4zM322.0 546.3h3.4v3.2h-3.4zM333.3 539.8h3.4v3.2h-3.4zM346.6 532.0h3.4v3.2h-3.4zM346.6 545.3h3.4v3.2h-3.4zM349.8 549.4h3.4v3.2h-3.4zM351.1 547.7h3.4v3.2h-3.4zM357.8 550.2h3.4v3.2h-3.4zM363.8 554.9h3.4v3.2h-3.4zM368.3 555.7h3.4v3.2h-3.4z" fill="#111"/>
<g clip-path="url(#c8)"><polygon points="243.0,480.1 246.2,482.2 249.5,484.3 252.7,486.3 256.0,488.4 259.2,490.5 262.5,492.5 265.7,494.6 269.0,496.6 272.2,498.6 275.5,500.7 278.7,502.7 282.0,504.7 285.2,506.7 288.4,508.6 291.7,510.6 294.9,512.5 298.2,514.5 301.4,516.3 304.7,518.2 307.9,520.1 311.2,521.9 314.4,523.7 317.7,525.5 320.9,527.3 324.2,529.0 327.4,530.7 330.6,532.5 333.9,534.2 337.1,535.9 340.4,537.6 343.6,539.2 346.9,540.9 350.1,542.6 353.4,544.2 356.6,545.9 359.9,547.6 363.1,549.2 366.4,550.9 369.6,552.5 369.6,564.3 366.4,562.2 363.1,560.1 359.9,558.1 356.6,556.0 353.4,553.9 350.1,551.8 346.9,549.8 343.6,547.7 340.4,545.7 337.1,543.6 333.9,541.6 330.6,539.6 327.4,537.6 324.2,535.6 320.9,533.6 317.7,531.7 314.4,529.7 311.2,527.8 307.9,525.9 304.7,524.0 301.4,522.2 298.2,520.3 294.9,518.5 291.7,516.7 288.4,514.9 285.2,513.2 282.0,511.4 278.7,509.7 275.5,508.0 272.2,506.3 269.0,504.6 265.7,502.9 262.5,501.3 259.2,499.6 256.0,497.9 252.7,496.3 249.5,494.6 246.2,492.9 243.0,491.3" fill="rgba(190,45,85,0.2)"/><line x1="243.0" y1="485.7" x2="369.6" y2="558.4" stroke="#f0444c" stroke-width="0.9"/></g>
<g font-size="9.7" fill="#111">
<text x="243.0" y="581.1" text-anchor="middle">0</text>
<text x="263.3" y="581.1" text-anchor="middle">5</text>
<text x="283.6" y="581.1" text-anchor="middle">10</text>
<text x="303.9" y="581.1" text-anchor="middle">15</text>
<text x="324.2" y="581.1" text-anchor="middle">20</text>
<text x="344.5" y="581.1" text-anchor="middle">25</text>
<text x="364.8" y="581.1" text-anchor="middle">30</text>
<text x="230.0" y="572.9" text-anchor="end">0.00</text>
<text x="230.0" y="537.2" text-anchor="end">0.05</text>
<text x="230.0" y="501.4" text-anchor="end">0.10</text>
<text x="230.0" y="465.7" text-anchor="end">0.15</text>
</g>
<text x="305.6" y="592.3" font-size="10.8" text-anchor="middle">SiO<tspan font-size="7.9" dy="2.7">2</tspan><tspan dy="-2.7"> / wt%</tspan></text>
<text x="203.5" y="517.8" font-size="10.8" text-anchor="middle" transform="rotate(-90 203.5 517.8)">V<tspan font-size="7.9" dy="2.7">p</tspan><tspan dy="-2.7"> / cm³·g</tspan><tspan font-size="7.4" dy="-4.3">−1</tspan></text>
<text x="205.2" y="452.1" font-size="12.3" font-weight="bold" fill="#111">(h)</text>
<text x="304.9" y="478.7" font-size="12.9">r = –0.98</text>
<text x="304.9" y="494.0" font-size="12.9">R<tspan font-size="10.5" dy="-1.7">²</tspan><tspan font-size="8.5" dy="5.7" dx="0.8">adj</tspan><tspan dy="-4.0"> = 0.95</tspan></text>
</g>
<g id="panel-i">
<clipPath id="c9"><rect x="428.8" y="462.5" width="147.4" height="106.7"/></clipPath>
<path d="M437.4 569.2v2M437.4 462.5v-2M457.9 569.2v2M457.9 462.5v-2M478.5 569.2v2M478.5 462.5v-2M499.0 569.2v2M499.0 462.5v-2M519.6 569.2v2M519.6 462.5v-2M540.1 569.2v2M540.1 462.5v-2M560.7 569.2v2M560.7 462.5v-2M428.8 569.2h-2M576.2 569.2h2M428.8 540.2h-2M576.2 540.2h2M428.8 511.3h-2M576.2 511.3h2M428.8 482.3h-2M576.2 482.3h2M447.7 569.2v1.2M447.7 462.5v-1.2M468.2 569.2v1.2M468.2 462.5v-1.2M488.8 569.2v1.2M488.8 462.5v-1.2M509.3 569.2v1.2M509.3 462.5v-1.2M529.9 569.2v1.2M529.9 462.5v-1.2M550.4 569.2v1.2M550.4 462.5v-1.2M571.0 569.2v1.2M571.0 462.5v-1.2M428.8 467.8h-1.2M576.2 467.8h1.2M428.8 496.8h-1.2M576.2 496.8h1.2M428.8 525.8h-1.2M576.2 525.8h1.2M428.8 554.8h-1.2M576.2 554.8h1.2" stroke="#666" stroke-width="0.8" fill="none"/>
<rect x="428.8" y="462.5" width="147.4" height="106.7" fill="none" stroke="#5a5a5a" stroke-width="1"/>
<path d="M436.0 460.8h3.4v3.2h-3.4zM436.4 474.9h3.4v3.2h-3.4zM437.4 476.7h3.4v3.2h-3.4zM446.6 487.0h3.4v3.2h-3.4zM446.6 494.5h3.4v3.2h-3.4zM467.9 499.9h3.4v3.2h-3.4zM516.8 517.2h3.4v3.2h-3.4zM528.5 537.9h3.4v3.2h-3.4zM542.0 543.4h3.4v3.2h-3.4zM542.0 547.5h3.4v3.2h-3.4zM544.8 548.8h3.4v3.2h-3.4zM546.1 549.6h3.4v3.2h-3.4zM553.0 550.8h3.4v3.2h-3.4zM559.0 554.3h3.4v3.2h-3.4zM563.9 555.7h3.4v3.2h-3.4z" fill="#111"/>
<g clip-path="url(#c9)"><polygon points="437.5,469.9 440.8,472.3 444.0,474.7 447.3,477.1 450.5,479.5 453.8,481.9 457.1,484.2 460.3,486.6 463.6,489.0 466.8,491.4 470.1,493.7 473.3,496.1 476.6,498.4 479.9,500.7 483.1,503.0 486.4,505.3 489.6,507.6 492.9,509.8 496.2,512.1 499.4,514.3 502.7,516.5 505.9,518.7 509.2,520.8 512.5,522.9 515.7,525.0 519.0,527.1 522.2,529.2 525.5,531.2 528.8,533.2 532.0,535.2 535.3,537.3 538.5,539.3 541.8,541.2 545.0,543.2 548.3,545.2 551.6,547.2 554.8,549.1 558.1,551.1 561.3,553.0 564.6,555.0 564.6,566.2 561.3,563.8 558.1,561.4 554.8,559.0 551.6,556.6 548.3,554.3 545.0,551.9 541.8,549.5 538.5,547.2 535.3,544.8 532.0,542.5 528.8,540.1 525.5,537.8 522.2,535.5 519.0,533.2 515.7,531.0 512.5,528.7 509.2,526.5 505.9,524.3 502.7,522.1 499.4,519.9 496.2,517.8 492.9,515.7 489.6,513.6 486.4,511.5 483.1,509.5 479.9,507.4 476.6,505.4 473.3,503.4 470.1,501.4 466.8,499.4 463.6,497.4 460.3,495.4 457.1,493.4 453.8,491.5 450.5,489.5 447.3,487.6 444.0,485.6 440.8,483.6 437.5,481.7" fill="rgba(190,45,85,0.2)"/><line x1="437.5" y1="475.8" x2="564.6" y2="560.6" stroke="#f0444c" stroke-width="0.9"/></g>
<g font-size="9.7" fill="#111">
<text x="437.4" y="580.6" text-anchor="middle">0</text>
<text x="457.9" y="580.6" text-anchor="middle">5</text>
<text x="478.5" y="580.6" text-anchor="middle">10</text>
<text x="499.0" y="580.6" text-anchor="middle">15</text>
<text x="519.6" y="580.6" text-anchor="middle">20</text>
<text x="540.1" y="580.6" text-anchor="middle">25</text>
<text x="560.7" y="580.6" text-anchor="middle">30</text>
<text x="425.3" y="572.4" text-anchor="end">0</text>
<text x="425.3" y="543.4" text-anchor="end">20</text>
<text x="425.3" y="514.5" text-anchor="end">40</text>
<text x="425.3" y="485.5" text-anchor="end">60</text>
</g>
<text x="501.9" y="591.8" font-size="10.8" text-anchor="middle">SiO<tspan font-size="7.9" dy="2.7">2</tspan><tspan dy="-2.7"> / wt%</tspan></text>
<text x="411.0" y="516.2" font-size="10.8" text-anchor="middle" transform="rotate(-90 411.0 516.2)">SSA / m²·g<tspan font-size="7.4" dy="-4.3">−1</tspan></text>
<text x="404.2" y="452.1" font-size="12.3" font-weight="bold" fill="#111">(i)</text>
<text x="501.5" y="478.7" font-size="12.9">r = –0.98</text>
<text x="501.5" y="494.0" font-size="12.9">R<tspan font-size="10.5" dy="-1.7">²</tspan><tspan font-size="8.5" dy="5.7" dx="0.8">adj</tspan><tspan dy="-4.0"> = 0.96</tspan></text>
</g>
<g id="panel-j">
<clipPath id="c10"><rect x="624.5" y="462.5" width="146.6" height="107.2"/></clipPath>
<path d="M632.4 569.7v2M632.4 462.5v-2M652.8 569.7v2M652.8 462.5v-2M673.2 569.7v2M673.2 462.5v-2M693.6 569.7v2M693.6 462.5v-2M714.0 569.7v2M714.0 462.5v-2M734.4 569.7v2M734.4 462.5v-2M754.8 569.7v2M754.8 462.5v-2M624.5 569.7h-2M771.1 569.7h2M624.5 551.8h-2M771.1 551.8h2M624.5 534.0h-2M771.1 534.0h2M624.5 516.1h-2M771.1 516.1h2M624.5 498.2h-2M771.1 498.2h2M624.5 480.4h-2M771.1 480.4h2M624.5 462.5h-2M771.1 462.5h2M642.6 569.7v1.2M642.6 462.5v-1.2M663.0 569.7v1.2M663.0 462.5v-1.2M683.4 569.7v1.2M683.4 462.5v-1.2M703.8 569.7v1.2M703.8 462.5v-1.2M724.2 569.7v1.2M724.2 462.5v-1.2M744.6 569.7v1.2M744.6 462.5v-1.2M765.0 569.7v1.2M765.0 462.5v-1.2M624.5 471.4h-1.2M771.1 471.4h1.2M624.5 489.3h-1.2M771.1 489.3h1.2M624.5 507.2h-1.2M771.1 507.2h1.2M624.5 525.0h-1.2M771.1 525.0h1.2M624.5 542.9h-1.2M771.1 542.9h1.2M624.5 560.8h-1.2M771.1 560.8h1.2" stroke="#666" stroke-width="0.8" fill="none"/>
<rect x="624.5" y="462.5" width="146.6" height="107.2" fill="none" stroke="#5a5a5a" stroke-width="1"/>
<path d="M740.7 464.9h3.4v3.2h-3.4zM747.8 476.1h3.4v3.2h-3.4zM736.6 479.6h3.4v3.2h-3.4zM753.6 488.4h3.4v3.2h-3.4zM739.8 491.5h3.4v3.2h-3.4zM723.5 494.7h3.4v3.2h-3.4zM736.6 505.8h3.4v3.2h-3.4zM642.0 506.4h3.4v3.2h-3.4zM663.3 516.8h3.4v3.2h-3.4zM631.8 529.7h3.4v3.2h-3.4zM632.8 536.1h3.4v3.2h-3.4zM631.4 552.0h3.4v3.2h-3.4zM642.0 556.9h3.4v3.2h-3.4zM711.8 556.9h3.4v3.2h-3.4z" fill="#111"/>
<g clip-path="url(#c10)"><polygon points="633.0,521.2 636.2,520.4 639.5,519.5 642.7,518.7 646.0,517.8 649.2,516.9 652.5,516.0 655.7,515.1 659.0,514.2 662.2,513.2 665.5,512.2 668.7,511.2 672.0,510.2 675.2,509.1 678.4,508.0 681.7,506.8 684.9,505.6 688.2,504.4 691.4,503.0 694.7,501.7 697.9,500.2 701.2,498.7 704.4,497.1 707.7,495.4 710.9,493.6 714.2,491.8 717.4,489.9 720.6,488.0 723.9,486.0 727.1,484.0 730.4,481.9 733.6,479.8 736.9,477.6 740.1,475.4 743.4,473.2 746.6,471.0 749.9,468.7 753.1,466.5 756.4,464.2 759.6,461.9 759.6,498.3 756.4,499.2 753.1,500.1 749.9,501.0 746.6,501.9 743.4,502.8 740.1,503.8 736.9,504.8 733.6,505.8 730.4,506.9 727.1,508.0 723.9,509.1 720.6,510.3 717.4,511.5 714.2,512.8 710.9,514.2 707.7,515.6 704.4,517.1 701.2,518.7 697.9,520.3 694.7,522.0 691.4,523.8 688.2,525.7 684.9,527.6 681.7,529.5 678.4,531.6 675.2,533.6 672.0,535.7 668.7,537.9 665.5,540.0 662.2,542.2 659.0,544.5 655.7,546.7 652.5,549.0 649.2,551.2 646.0,553.5 642.7,555.8 639.5,558.1 636.2,560.5 633.0,562.8" fill="rgba(190,45,85,0.2)"/><line x1="633.0" y1="542.0" x2="759.6" y2="480.1" stroke="#f0444c" stroke-width="0.9"/></g>
<g font-size="9.7" fill="#111">
<text x="632.4" y="581.1" text-anchor="middle">0</text>
<text x="652.8" y="581.1" text-anchor="middle">5</text>
<text x="673.2" y="581.1" text-anchor="middle">10</text>
<text x="693.6" y="581.1" text-anchor="middle">15</text>
<text x="714.0" y="581.1" text-anchor="middle">20</text>
<text x="734.4" y="581.1" text-anchor="middle">25</text>
<text x="754.8" y="581.1" text-anchor="middle">30</text>
<text x="622.0" y="572.9" text-anchor="end">12</text>
<text x="622.0" y="555.0" text-anchor="end">13</text>
<text x="622.0" y="537.2" text-anchor="end">14</text>
<text x="622.0" y="519.3" text-anchor="end">15</text>
<text x="622.0" y="501.4" text-anchor="end">16</text>
<text x="622.0" y="483.6" text-anchor="end">17</text>
<text x="622.0" y="465.7" text-anchor="end">18</text>
</g>
<text x="697.2" y="592.3" font-size="10.8" text-anchor="middle">SiO<tspan font-size="7.9" dy="2.7">2</tspan><tspan dy="-2.7"> / wt%</tspan></text>
<text x="605.5" y="516.8" font-size="10.8" text-anchor="middle" transform="rotate(-90 605.5 516.8)">Φ<tspan font-size="7.9" dy="2.7">50</tspan><tspan dy="-2.7"> / nm</tspan></text>
<text x="599.0" y="452.1" font-size="12.3" font-weight="bold" fill="#111">(j)</text>
<text x="633.1" y="478.7" font-size="12.9">r = 0.77</text>
<text x="633.1" y="494.0" font-size="12.9">R<tspan font-size="10.5" dy="-1.7">²</tspan><tspan font-size="8.5" dy="5.7" dx="0.8">adj</tspan><tspan dy="-4.0"> = 0.56</tspan></text>
</g>
</svg>
</body></html>
